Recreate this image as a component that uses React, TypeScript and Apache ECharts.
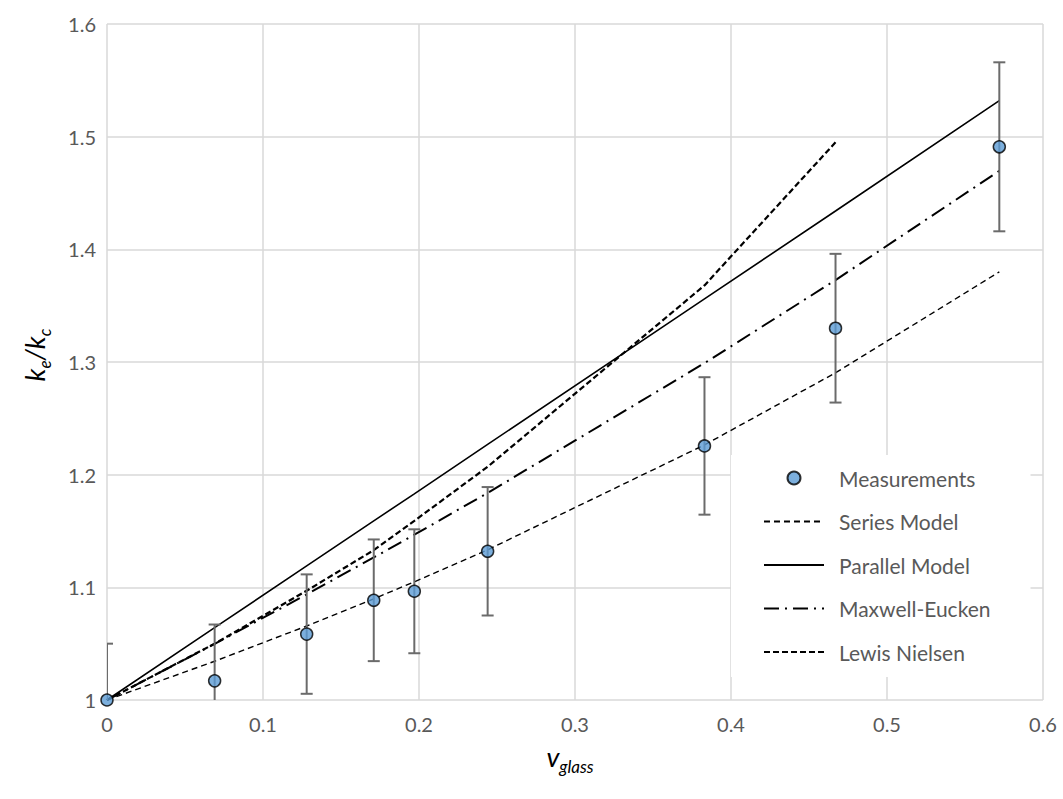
import React, { useEffect, useRef } from "react";
import * as echarts from "echarts";

// Volume fraction of glass (x values)
const vGlass = [0, 0.069, 0.128, 0.171, 0.197, 0.244, 0.383, 0.467, 0.572];
// Measured ke/kc and error half-widths
const measured = [1.0, 1.017, 1.0585, 1.0885, 1.0965, 1.132, 1.2255, 1.33, 1.491];
const errHalf = [0.05, 0.05, 0.053, 0.054, 0.055, 0.057, 0.061, 0.066, 0.075];
// Model curves
const seriesModel = [1, 1.0344, 1.0657, 1.0898, 1.1049, 1.1333, 1.2264, 1.2904, 1.38];
const parallelModel = [1, 1.0642, 1.119, 1.159, 1.183, 1.2269, 1.356, 1.434, 1.532];
const maxwellEucken = [1, 1.0498, 1.0937, 1.1265, 1.1467, 1.1838, 1.299, 1.3727, 1.4697];
const lewisNielsen = [1, 1.05, 1.097, 1.133, 1.159, 1.207, 1.368, 1.495];

const legendNames = ["Measurements", "Series Model", "Parallel Model", "Maxwell-Eucken", "Lewis Nielsen"];
const xTicks = { min: 0, max: 0.6, interval: 0.1 };
const yTicks = { min: 1, max: 1.6, interval: 0.1 };

const FONT = "Lato";
const TXT = "#595959";

export default function App() {
  const ref = useRef<HTMLDivElement>(null);
  useEffect(() => {
    if (!ref.current) return;
    const chart = echarts.init(ref.current, null, { renderer: "svg" });
    const pairs = (ys: number[]) => ys.map((y, i) => [vGlass[i], y]);
    const errData = vGlass.map((v, i) => [v, measured[i], errHalf[i]]);
    const subRich = {
      a: { fontSize: 27, fontStyle: "italic", fontFamily: FONT, color: TXT, lineHeight: 30, verticalAlign: "top" },
      b: { fontSize: 17, fontStyle: "italic", fontFamily: FONT, color: TXT, lineHeight: 20, padding: [15, 0, 0, 0], verticalAlign: "top" },
    };
    chart.setOption({
      animation: false,
      backgroundColor: "#fff",
      grid: { left: 107, right: 20, top: 24, bottom: 99, containLabel: false },
      xAxis: {
        type: "value",
        min: xTicks.min,
        max: xTicks.max,
        interval: xTicks.interval,
        axisLine: { show: false },
        axisTick: { show: false },
        splitLine: { show: true, lineStyle: { color: "#d9d9d9", width: 1.5 } },
        axisLabel: { color: TXT, fontSize: 20, fontFamily: FONT, margin: 14 },
      },
      yAxis: {
        type: "value",
        min: yTicks.min,
        max: yTicks.max,
        interval: yTicks.interval,
        axisLine: { show: false },
        axisTick: { show: false },
        splitLine: { show: true, lineStyle: { color: "#d9d9d9", width: 1.5 } },
        axisLabel: {
          color: TXT,
          fontSize: 20,
          fontFamily: FONT,
          margin: 11,
          formatter: (v: number) => String(Math.round(v * 10) / 10),
        },
      },
      legend: {
        data: legendNames.map((n, i) =>
          i === 0 ? { name: n } : { name: n, itemStyle: { opacity: 0 } }
        ),
        orient: "vertical",
        left: 731,
        top: 455,
        backgroundColor: "#fff",
        padding: [11, 40, 13, 32],
        itemWidth: 60,
        itemHeight: 13,
        itemGap: 19.5,
        textStyle: { color: TXT, fontSize: 21, fontFamily: FONT, lineHeight: 24, padding: [0, 0, 0, 10] },
      },
      graphic: [
        {
          type: "text",
          x: 570,
          y: 758,
          style: { text: "{a|v}{b|glass}", rich: subRich, align: "center", verticalAlign: "middle" },
        },
        {
          type: "text",
          x: 36,
          y: 355,
          rotation: Math.PI / 2,
          style: { text: "{a|k}{b|e}{a|/k}{b|c}", rich: subRich, align: "center", verticalAlign: "middle" },
        },
      ],
      series: [
        {
          name: "Series Model",
          type: "line",
          data: pairs(seriesModel),
          showSymbol: false,
          symbol: "none",
          lineStyle: { color: "#000", width: 1.4, type: [6, 4] },
          itemStyle: { color: "#000" },
          z: 2,
        },
        {
          name: "Parallel Model",
          type: "line",
          data: pairs(parallelModel),
          showSymbol: false,
          symbol: "none",
          lineStyle: { color: "#000", width: 1.6, type: "solid" },
          itemStyle: { color: "#000" },
          z: 2,
        },
        {
          name: "Maxwell-Eucken",
          type: "line",
          data: pairs(maxwellEucken),
          showSymbol: false,
          symbol: "none",
          lineStyle: { color: "#000", width: 2, type: [15, 6, 2, 6] },
          itemStyle: { color: "#000" },
          z: 2,
        },
        {
          name: "Lewis Nielsen",
          type: "line",
          data: pairs(lewisNielsen),
          showSymbol: false,
          symbol: "none",
          lineStyle: { color: "#000", width: 2.2, type: [6, 3] },
          itemStyle: { color: "#000" },
          z: 2,
        },
        {
          name: "Error",
          type: "custom",
          clip: true,
          data: errData,
          encode: { x: 0, y: 1 },
          z: 3,
          renderItem: (params: any, api: any) => {
            const x = api.value(0);
            const y = api.value(1);
            const e = api.value(2);
            const top = api.coord([x, y + e]);
            const bot = api.coord([x, y - e]);
            const half = 6;
            const st = { stroke: "#6b6b6b", lineWidth: 2 };
            return {
              type: "group",
              children: [
                { type: "line", shape: { x1: top[0], y1: top[1], x2: bot[0], y2: bot[1] }, style: st },
                { type: "line", shape: { x1: top[0] - half, y1: top[1], x2: top[0] + half, y2: top[1] }, style: st },
                { type: "line", shape: { x1: bot[0] - half, y1: bot[1], x2: bot[0] + half, y2: bot[1] }, style: st },
              ],
            };
          },
        },
        {
          name: "Measurements",
          type: "scatter",
          data: pairs(measured),
          symbol: "circle",
          symbolSize: 12,
          itemStyle: { color: "#5b9bd5", borderColor: "#000", borderWidth: 1.5 },
          z: 4,
        },
      ],
    });
    return () => chart.dispose();
  }, []);
  return <div ref={ref} style={{ width: 1063, height: 799, position: "absolute", left: 0, top: 0 }} />;
}
